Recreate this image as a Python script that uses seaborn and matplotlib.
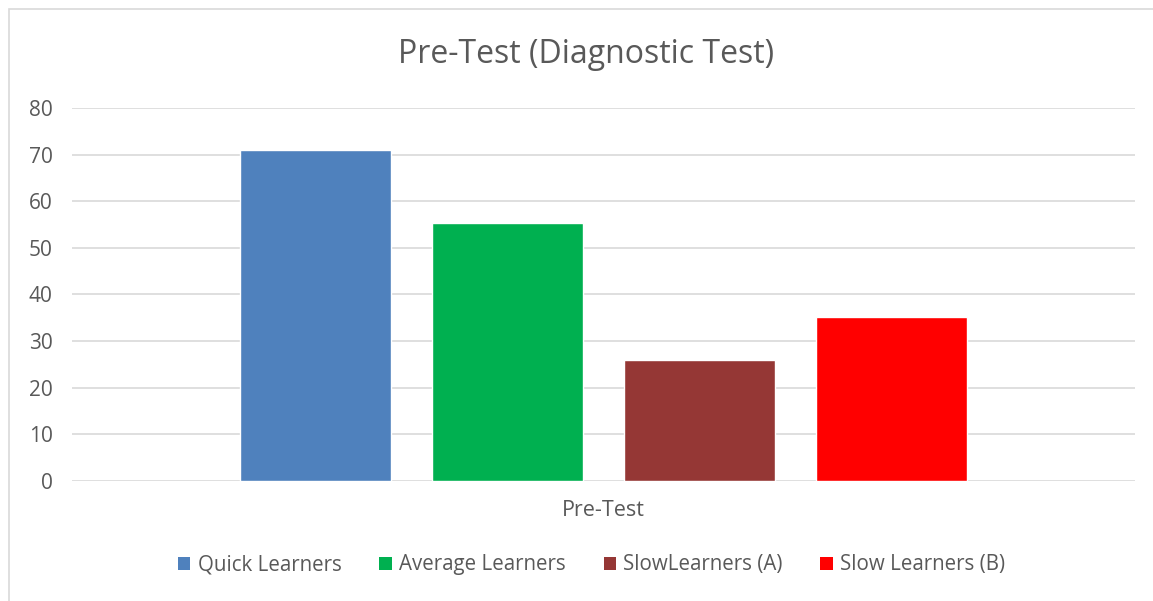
import matplotlib
matplotlib.use("Agg")
import matplotlib.pyplot as plt
from matplotlib.patches import Patch, Rectangle
import seaborn as sns
import pandas as pd

# datos
grupos = ["Quick Learners", "Average Learners", "SlowLearners (A)", "Slow Learners (B)"]
puntajes = [71.0, 55.3, 26.0, 35.2]
categoria = "Pre-Test"
colores = ["#4F81BD", "#00B050", "#953735", "#FF0000"]
titulo = "Pre-Test (Diagnostic Test)"

df = pd.DataFrame({"prueba": [categoria] * len(grupos), "grupo": grupos, "puntaje": puntajes})

sns.set_theme(style="white")
plt.rcParams["font.family"] = ["Open Sans", "DejaVu Sans"]

fig = plt.figure(figsize=(11.53, 6.01), dpi=100)
ax = fig.add_axes([0.0624, 0.1997, 0.922, 0.6206])

sns.barplot(data=df, x="prueba", y="puntaje", hue="grupo", hue_order=grupos,
            palette=colores, width=0.7225, gap=0.21, saturation=1,
            legend=False, ax=ax)

ax.set_xlim(-0.5, 0.5)
ax.set_ylim(0, 80)
ax.set_yticks(range(0, 81, 10))
ax.yaxis.grid(True, color="#d9d9d9", linewidth=1.2)
ax.set_axisbelow(True)
for s in ax.spines.values():
    s.set_visible(False)
ax.set_xlabel("")
ax.set_ylabel("")
ax.tick_params(axis="both", length=0, colors="#595959")
ax.tick_params(axis="y", labelsize=15, pad=14)
ax.tick_params(axis="x", labelsize=15.5, pad=14)

fig.text(0.508, 0.91, titulo, ha="center", va="center", fontsize=23, color="#595959")

handles = [Patch(facecolor=c, edgecolor="none") for c in colores]
fig.legend(handles, grupos, loc="center", bbox_to_anchor=(0.513, 0.06), ncol=4,
           frameon=False, fontsize=14.8, labelcolor="#595959",
           handlelength=0.6, handleheight=0.6, handletextpad=0.35, columnspacing=1.85)

# borde del area del grafico
fig.patches.append(Rectangle((9 / 1153, -0.1), 1.2, 1.1 - 9 / 601, transform=fig.transFigure,
                             fill=False, edgecolor="#d9d9d9", linewidth=1.2))

fig.savefig("out.png", dpi=100)
plt.close(fig)
